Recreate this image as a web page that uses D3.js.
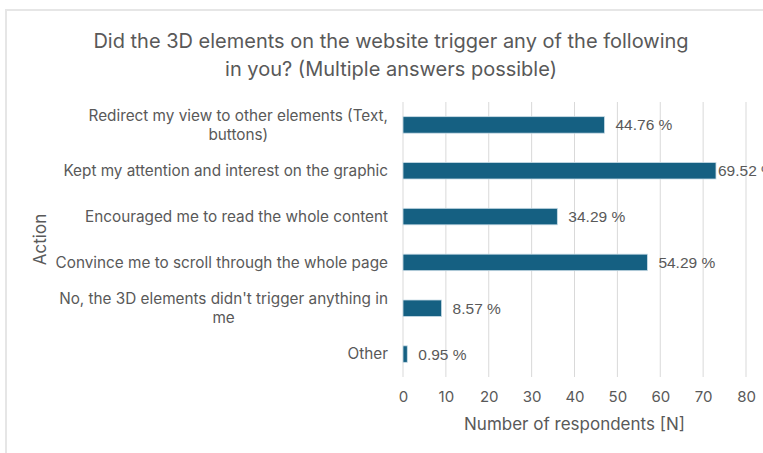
<!DOCTYPE html>
<html>
<head>
<meta charset="utf-8">
<script src="https://cdn.jsdelivr.net/npm/d3@7"></script>
<style>
  html, body { margin: 0; padding: 0; background: #fff; }
  svg { display: block; }
</style>
</head>
<body>
<svg id="chart" width="763" height="453"></svg>
<script>
// Survey answers (multiple answers possible)
const categories = [
  "Redirect my view to other elements (Text, buttons)",
  "Kept my attention and interest on the graphic",
  "Encouraged me to read the whole content",
  "Convince me to scroll through the whole page",
  "No, the 3D elements didn't trigger anything in me",
  "Other"
];
const respondents = [47, 73, 36, 57, 9, 1];
const totalRespondents = 105;
const xTicks = [0, 10, 20, 30, 40, 50, 60, 70, 80];

const W = 763, H = 453;
const margin = { top: 102, right: 17, bottom: 76, left: 403 };
const labelFont = "Inter, 'Noto Sans', sans-serif";
const textColor = "#595959";

const svg = d3.select("#chart");

// chart frame
svg.append("rect")
  .attr("x", 6).attr("y", 10)
  .attr("width", W + 20).attr("height", H + 20)
  .attr("fill", "#fff")
  .attr("stroke", "#e6e6e6").attr("stroke-width", 2);

const x = d3.scaleLinear().domain([0, 80]).range([margin.left, W - margin.right]);
const y = d3.scaleBand().domain(categories)
  .range([margin.top, H - margin.bottom]).paddingInner(0.64).paddingOuter(0.32);

// title
const title = svg.append("text")
  .attr("x", 391).attr("text-anchor", "middle")
  .attr("font-family", labelFont).attr("font-size", 20)
  .attr("fill", textColor);
title.append("tspan").attr("x", 391).attr("y", 48)
  .text("Did the 3D elements on the website trigger any of the following");
title.append("tspan").attr("x", 391).attr("y", 76)
  .text("in you? (Multiple answers possible)");

// vertical gridlines
svg.append("g").selectAll("line")
  .data(xTicks).join("line")
  .attr("x1", d => x(d)).attr("x2", d => x(d))
  .attr("y1", margin.top).attr("y2", H - margin.bottom)
  .attr("stroke", "#d9d9d9").attr("stroke-width", 1);

// x axis labels
const xAxis = d3.axisBottom(x).tickValues(xTicks).tickSize(0).tickPadding(14);
const gx = svg.append("g")
  .attr("transform", `translate(0,${H - margin.bottom})`)
  .call(xAxis);
gx.select(".domain").remove();
gx.selectAll("text")
  .attr("font-family", labelFont).attr("font-size", 15)
  .attr("fill", textColor);

// bars
svg.append("g").selectAll("rect")
  .data(categories).join("rect")
  .attr("x", x(0))
  .attr("y", (d) => y(d))
  .attr("width", (d, i) => x(respondents[i]) - x(0))
  .attr("height", y.bandwidth())
  .attr("fill", "#156082")
  .attr("stroke", "#c9dce6").attr("stroke-width", 0.8);

// value labels (share of all respondents)
const labelMaxX = W - 45;
svg.append("g").selectAll("text")
  .data(categories).join("text")
  .attr("x", (d, i) => Math.min(x(respondents[i]) + 11, labelMaxX))
  .attr("y", d => y(d) + y.bandwidth() / 2)
  .attr("dy", "0.35em")
  .attr("font-family", "'Liberation Sans', Arial, sans-serif")
  .attr("font-size", 15.5)
  .attr("fill", textColor)
  .text((d, i) => (respondents[i] / totalRespondents * 100).toFixed(2) + " %");

// category labels, wrapped and centred on each band
const catG = svg.append("g");
const maxLabelWidth = 338;
categories.forEach(cat => {
  const t = catG.append("text")
    .attr("text-anchor", "end")
    .attr("font-family", labelFont).attr("font-size", 15.3)
    .attr("fill", textColor);
  const words = cat.split(" ");
  const lines = [];
  let line = [];
  const probe = t.append("tspan");
  words.forEach(w => {
    line.push(w);
    probe.text(line.join(" "));
    if (probe.node().getComputedTextLength() > maxLabelWidth && line.length > 1) {
      line.pop();
      lines.push(line.join(" "));
      line = [w];
    }
  });
  lines.push(line.join(" "));
  probe.remove();
  const lh = 18.5;
  const cy = y(cat) + y.bandwidth() / 2;
  if (lines.length === 1) {
    t.append("tspan").attr("x", 388).attr("y", cy).attr("dy", "0.35em").text(lines[0]);
  } else {
    // subsequent lines are centred under the first
    const first = t.append("tspan").attr("x", 388)
      .attr("y", cy - lh * (lines.length - 1) / 2).attr("dy", "0.35em").text(lines[0]);
    const w0 = first.node().getComputedTextLength();
    lines.slice(1).forEach((l, k) => {
      t.append("tspan").attr("x", 388 - w0 / 2).attr("text-anchor", "middle")
        .attr("y", cy - lh * (lines.length - 1) / 2 + lh * (k + 1)).attr("dy", "0.35em").text(l);
    });
  }
});

// axis titles
svg.append("text")
  .attr("x", (x(0) + x(80)) / 2).attr("y", 430)
  .attr("text-anchor", "middle")
  .attr("font-family", labelFont).attr("font-size", 17)
  .attr("fill", textColor)
  .text("Number of respondents [N]");

svg.append("text")
  .attr("transform", `translate(46,${(margin.top + H - margin.bottom) / 2}) rotate(-90)`)
  .attr("text-anchor", "middle")
  .attr("font-family", labelFont).attr("font-size", 17)
  .attr("fill", textColor)
  .text("Action");
</script>
</body>
</html>
